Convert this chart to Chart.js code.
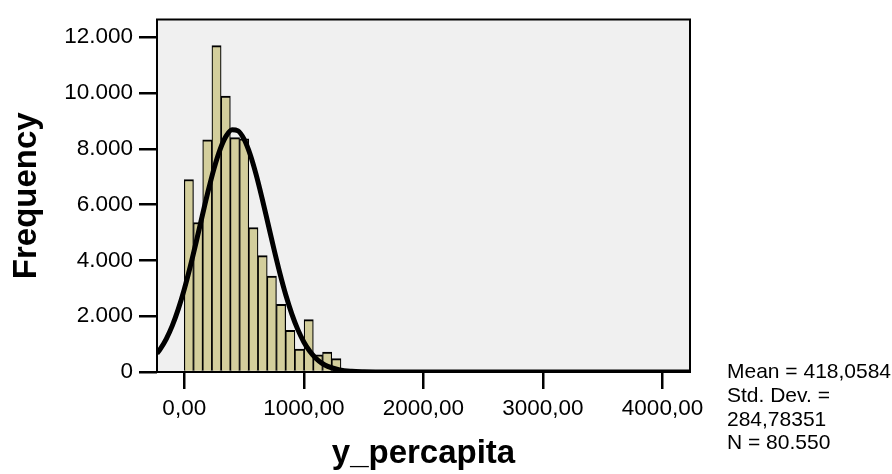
<!DOCTYPE html>
<html><head><meta charset="utf-8">
<script src="https://cdn.jsdelivr.net/npm/chart.js@4.4.1/dist/chart.umd.min.js"></script>
<style>
html,body{margin:0;padding:0;background:#fff;}
#wrap{position:relative;width:892px;height:474px;}
#stats{position:absolute;left:727px;top:359px;font:21px 'Liberation Sans',Arial,sans-serif;line-height:23.8px;color:#000;white-space:nowrap;}
</style></head><body>
<div id="wrap"><canvas id="c" width="892" height="474" style="width:892px;height:474px;display:block"></canvas>
<div id="stats"></div></div>
<script>
// Histogram bins (bin centres, bin width ~77) and frequencies
const binCenters = [38.6, 115.7, 192.8, 269.9, 347.0, 424.1, 501.2, 578.3, 655.4, 732.5, 809.6, 886.7, 963.8, 1040.9, 1118.0, 1195.1, 1272.2];
const frequencies = [6900, 5360, 8320, 11700, 9890, 8400, 8360, 5180, 4170, 3440, 2430, 1490, 820, 1880, 620, 710, 480];
// Fitted normal curve
const curveX = [-228, -200, -150, -100, -50, 0, 50, 100, 150, 200, 250, 300, 350, 400, 450, 500, 550, 600, 650, 700, 750, 800, 850, 900, 950, 1000, 1050, 1100, 1150, 1200, 1300, 1400, 1500, 1600, 1800, 2500, 3500, 4230];
const curveY = [664, 826, 1190, 1663, 2255, 2963, 3775, 4664, 5587, 6490, 7311, 7984, 8455, 8683, 8645, 8347, 7814, 7093, 6243, 5329, 4409, 3538, 2753, 2077, 1519, 1078, 741, 494, 320, 200, 72, 23, 6, 1, 0, 0, 0, 0];
const yTicks = [0, 2000, 4000, 6000, 8000, 10000, 12000];
const yTickLabels = ['0', '2.000', '4.000', '6.000', '8.000', '10.000', '12.000'];
const xTicks = [0, 1000, 2000, 3000, 4000];
const xTickLabels = ['0,00', '1000,00', '2000,00', '3000,00', '4000,00'];
const statsLines = ['Mean = 418,0584', 'Std. Dev. =', '284,78351', 'N = 80.550'];
const xTitle = 'y_percapita';
const yTitle = 'Frequency';

document.getElementById('stats').innerHTML = statsLines.join('<br>');

Chart.defaults.font.family = "'Liberation Sans', Arial, sans-serif";
Chart.defaults.color = '#000';

const plotFrame = {
  id: 'plotFrame',
  beforeDraw(chart) {
    const {ctx, chartArea: a} = chart;
    ctx.save();
    ctx.fillStyle = '#F0F0F0';
    ctx.fillRect(a.left, a.top, a.right - a.left, a.bottom - a.top);
    ctx.restore();
  },
  afterDatasetsDraw(chart) {
    const {ctx, chartArea: a} = chart;
    ctx.save();
    ctx.strokeStyle = '#000';
    ctx.lineWidth = 2;
    ctx.strokeRect(a.left, a.top, a.right - a.left, a.bottom - a.top);
    ctx.restore();
  }
};

new Chart(document.getElementById('c'), {
  type: 'bar',
  data: {
    datasets: [
      {
        type: 'line',
        data: curveX.map((x, i) => ({x, y: curveY[i]})),
        borderColor: '#000',
        borderWidth: 5,
        pointRadius: 0,
        fill: false,
        cubicInterpolationMode: 'monotone',
        order: 1
      },
      {
        type: 'bar',
        data: binCenters.map((x, i) => ({x, y: frequencies[i]})),
        backgroundColor: '#D3CE9C',
        borderColor: '#000',
        borderWidth: {top: 2, left: 1.2, right: 1.2, bottom: 0},
        barPercentage: 1,
        categoryPercentage: 1,
        order: 2
      }
    ]
  },
  options: {
    responsive: false,
    animation: false,
    devicePixelRatio: 1,
    layout: {padding: {left: 0, top: 15, right: 202, bottom: 0}},
    plugins: {legend: {display: false}, tooltip: {enabled: false}},
    scales: {
      x: {
        type: 'linear',
        min: -228,
        max: 4230,
        offset: false,
        grid: {offset: false, drawOnChartArea: false, drawTicks: true, tickLength: 17, color: '#000', lineWidth: 2.5},
        border: {display: false},
        ticks: {
          autoSkip: false, maxRotation: 0, padding: 6, color: '#000', font: {size: 22.5},
          callback: (v) => { const i = xTicks.indexOf(v); return i >= 0 ? xTickLabels[i] : ''; }
        },
        afterBuildTicks: (s) => { s.ticks = xTicks.map(v => ({value: v})); },
        afterFit: (s) => { s.height = 102; },
        title: {display: true, text: xTitle, color: '#000', font: {size: 33, weight: 'bold'}, padding: {top: 0, bottom: 0}}
      },
      y: {
        min: 0,
        max: 12637,
        grid: {drawOnChartArea: false, drawTicks: true, tickLength: 18, color: '#000', lineWidth: 2.5},
        border: {display: false},
        ticks: {
          padding: 6, color: '#000', font: {size: 22.5},
          callback: (v) => { const i = yTicks.indexOf(v); return i >= 0 ? yTickLabels[i] : ''; }
        },
        afterBuildTicks: (s) => { s.ticks = yTicks.map(v => ({value: v})); },
        afterFit: (s) => { s.width = 157; },
        title: {display: true, text: yTitle, color: '#000', font: {size: 33, weight: 'bold'}, padding: {top: 7, bottom: 0}}
      }
    }
  },
  plugins: [plotFrame]
});
</script>
</body></html>
